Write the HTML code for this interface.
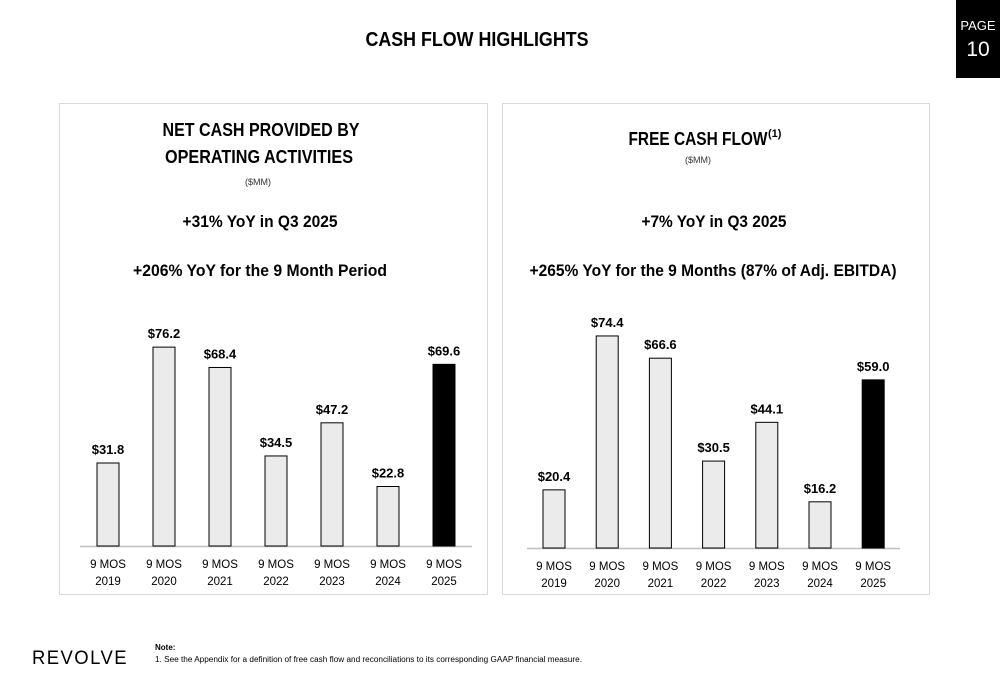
<!DOCTYPE html>
<html><head><meta charset="utf-8"><style>
html,body{margin:0;padding:0;background:#fff}
svg{display:block;font-family:"Liberation Sans",Arial,sans-serif}
</style></head><body>
<svg id="s" width="1000" height="685" viewBox="0 0 1000 685">
<text x="477" y="46" text-anchor="middle" font-size="20" font-weight="bold" textLength="223" lengthAdjust="spacingAndGlyphs">CASH FLOW HIGHLIGHTS</text>
<rect x="956" y="0" width="44" height="78" fill="#000"/>
<text x="978" y="30" text-anchor="middle" font-size="13" fill="#fff">PAGE</text>
<text x="978" y="56" text-anchor="middle" font-size="21" fill="#fff">10</text>

<rect x="59.5" y="103.5" width="428" height="491" fill="none" stroke="#d9d9d9"/>
<rect x="502.5" y="103.5" width="427" height="491" fill="none" stroke="#d9d9d9"/>

<text x="261" y="136" text-anchor="middle" font-size="18" font-weight="bold" textLength="197" lengthAdjust="spacingAndGlyphs">NET CASH PROVIDED BY</text>
<text x="259" y="163" text-anchor="middle" font-size="18" font-weight="bold" textLength="188" lengthAdjust="spacingAndGlyphs">OPERATING ACTIVITIES</text>
<text x="258" y="185" text-anchor="middle" font-size="9" fill="#333">($MM)</text>
<text x="260" y="227" text-anchor="middle" font-size="17" font-weight="bold" textLength="155" lengthAdjust="spacingAndGlyphs">+31% YoY in Q3 2025</text>
<text x="260" y="276" text-anchor="middle" font-size="17" font-weight="bold" textLength="254" lengthAdjust="spacingAndGlyphs">+206% YoY for the 9 Month Period</text>

<text x="698" y="145" text-anchor="middle" font-size="18" font-weight="bold" textLength="139" lengthAdjust="spacingAndGlyphs">FREE CASH FLOW</text>
<text x="768" y="137" font-size="11" font-weight="bold">(1)</text>
<text x="698" y="163" text-anchor="middle" font-size="9" fill="#333">($MM)</text>
<text x="714" y="227" text-anchor="middle" font-size="17" font-weight="bold" textLength="145" lengthAdjust="spacingAndGlyphs">+7% YoY in Q3 2025</text>
<text x="713" y="276" text-anchor="middle" font-size="17" font-weight="bold" textLength="367" lengthAdjust="spacingAndGlyphs">+265% YoY for the 9 Months (87% of Adj. EBITDA)</text>

<g id="left"></g>
<g id="right"></g>

<text x="32" y="664" font-size="19" letter-spacing="1.5" textLength="96" lengthAdjust="spacingAndGlyphs">REVOLVE</text>
<text x="155" y="650" font-size="8" font-weight="bold">Note:</text>
<text x="155" y="662" font-size="8" textLength="427" lengthAdjust="spacingAndGlyphs">1.  See the Appendix for a definition of free cash flow and reconciliations to its corresponding GAAP financial measure.</text>
</svg>
<script>
const categories = ["2019","2020","2021","2022","2023","2024","2025"];
const opCashValues = [31.8,76.2,68.4,34.5,47.2,22.8,69.6];
const fcfValues = [20.4,74.4,66.6,30.5,44.1,16.2,59.0];
const NS = "http://www.w3.org/2000/svg";
function mk(tag, attrs, parent){const e=document.createElementNS(NS,tag);for(const k in attrs)e.setAttribute(k,attrs[k]);parent.appendChild(e);return e;}
function drawChart(g, values, cfg){
  const x = i => cfg.x0 + i*cfg.step;
  const y = v => cfg.base - v*cfg.scale;
  const axis = mk('line',{x1:cfg.ax0,x2:cfg.ax1,y1:cfg.base+0.5,y2:cfg.base+0.5,stroke:'#bfbfbf','stroke-width':1.5},g);
  
  
  values.forEach((v,i)=>{
    const last = i===values.length-1;
    const r = mk('rect',{x:x(i)-11,y:y(v),width:22,height:cfg.base-y(v),fill:last?'#000':'#ebebeb',stroke:'#000','stroke-width':1},g);
    
    
    const t = mk('text',{x:x(i),y:y(v)-9,'text-anchor':'middle','font-size':13,'font-weight':'bold'},g);
    t.textContent = '$'+v.toFixed(1);
    
    
    const l1 = mk('text',{x:x(i),y:cfg.base+22,'text-anchor':'middle','font-size':11.5},g);
    l1.textContent = '9 MOS';
    
    
    const l2 = mk('text',{x:x(i),y:cfg.base+39,'text-anchor':'middle','font-size':11.5},g);
    l2.textContent = categories[i];
    
    
  });
}
drawChart(document.getElementById('left'), opCashValues, {x0:108,step:56,base:546,scale:2.61,ax0:80,ax1:472});
drawChart(document.getElementById('right'), fcfValues, {x0:554,step:53.2,base:548,scale:2.85,ax0:527,ax1:900});
</script>
</body></html>
